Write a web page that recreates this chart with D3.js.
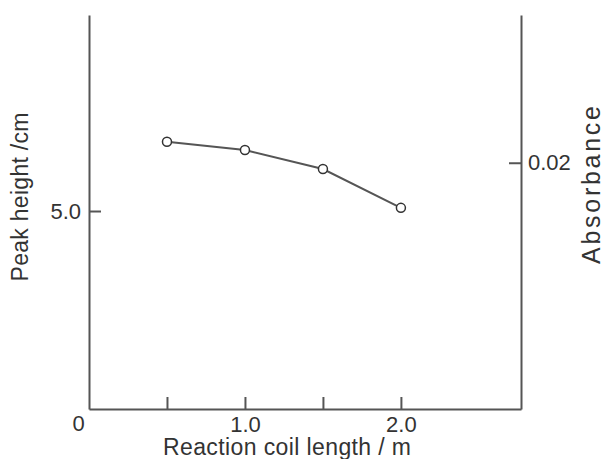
<!DOCTYPE html>
<html>
<head>
<meta charset="utf-8">
<script src="https://cdn.jsdelivr.net/npm/d3@7"></script>
<style>
  body { margin: 0; background: #fff; }
  text { font-family: "Liberation Sans", Arial, sans-serif; fill: #333; }
</style>
</head>
<body>
<svg id="grafico" width="605" height="459"></svg>
<script>
// Dados
let comprimentos = [0.5, 1.0, 1.5, 2.0];
let alturas = [6.75, 6.54, 6.06, 5.08];
let ticksX = [0.5, 1.0, 1.5, 2.0];
let rotulosX = ["", "1.0", "", "2.0"];
let ticksY = [5.0];
let ticksAbs = [0.02];

let svg = d3.select("#grafico");
let cor = "#555";

// Escalas
let fnX = d3.scaleLinear().domain([0, 2.77]).range([89, 521]);
let fnY = d3.scaleLinear().domain([0, 9.95]).range([409, 15]);
let fnAbs = d3.scaleLinear().domain([0, 0.032]).range([409, 15]);

// Eixo X
let eixoX = svg.append("g").attr("transform", "translate(0,409)")
  .call(d3.axisBottom(fnX).tickValues(ticksX).tickSize(-12).tickSizeOuter(0)
    .tickFormat((d, i) => rotulosX[i]));
eixoX.select(".domain").attr("stroke", cor).attr("stroke-width", 2);
eixoX.selectAll(".tick line").attr("stroke", cor).attr("stroke-width", 2);
eixoX.selectAll(".tick text").attr("font-size", 22).attr("fill", "#333")
  .attr("y", 23).attr("dy", "0");

// Eixo Y esquerdo
let eixoY = svg.append("g").attr("transform", "translate(89,0)")
  .call(d3.axisLeft(fnY).tickValues(ticksY).tickSize(-12).tickSizeOuter(0)
    .tickFormat(d3.format(".1f")));
eixoY.select(".domain").attr("stroke", cor).attr("stroke-width", 2);
eixoY.selectAll(".tick line").attr("stroke", cor).attr("stroke-width", 2);
eixoY.selectAll(".tick text").attr("font-size", 22).attr("fill", "#333")
  .attr("x", -8);

// Eixo Y direito
let eixoAbs = svg.append("g").attr("transform", "translate(521,0)")
  .call(d3.axisRight(fnAbs).tickValues(ticksAbs).tickSize(-12).tickSizeOuter(0)
    .tickFormat(d3.format(".2f")));
eixoAbs.select(".domain").attr("stroke", cor).attr("stroke-width", 2);
eixoAbs.selectAll(".tick line").attr("stroke", cor).attr("stroke-width", 2);
eixoAbs.selectAll(".tick text").attr("font-size", 22).attr("fill", "#333")
  .attr("x", 7);

// Zero
svg.append("text").attr("x", 78.5).attr("y", 431).attr("text-anchor", "middle")
  .attr("font-size", 22).text("0");

// Títulos
svg.append("text").attr("x", 287).attr("y", 455).attr("text-anchor", "middle")
  .attr("font-size", 23).attr("textLength", 248).text("Reaction coil length / m");
svg.append("text").attr("transform", "translate(28,197) rotate(-90)")
  .attr("text-anchor", "middle").attr("font-size", 23)
  .attr("textLength", 169).text("Peak height /cm");
svg.append("text").attr("transform", "translate(600,185) rotate(-90)")
  .attr("text-anchor", "middle").attr("font-size", 25)
  .attr("textLength", 158).text("Absorbance");

// Linha
let linha = d3.line().x((d, i) => fnX(comprimentos[i])).y((d) => fnY(d));
svg.append("path").datum(alturas).attr("d", linha)
  .attr("fill", "none").attr("stroke", cor).attr("stroke-width", 2);

// Pontos
svg.selectAll(".ponto").data(alturas).enter().append("circle")
  .classed("ponto", true)
  .attr("cx", (d, i) => fnX(comprimentos[i]))
  .attr("cy", (d) => fnY(d))
  .attr("r", 4.5)
  .attr("fill", "#fff").attr("stroke", "#333").attr("stroke-width", 1.5);
</script>
</body>
</html>
